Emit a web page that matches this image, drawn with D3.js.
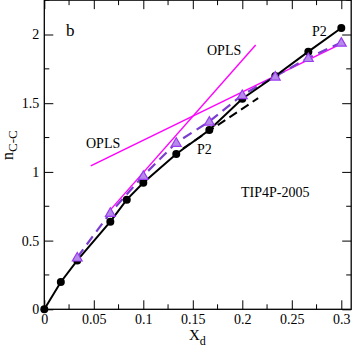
<!DOCTYPE html>
<html><head><meta charset="utf-8">
<script src="https://cdn.jsdelivr.net/npm/d3@7"></script>
<style>body{margin:0;background:#fff}svg{display:block}text{font-family:"Liberation Serif","Times New Roman",serif}</style>
</head><body><svg id="c" width="354" height="349"></svg>
<script>
const p2X = [0, 0.0167, 0.0333, 0.0667, 0.0833, 0.1, 0.1333, 0.1667, 0.2, 0.2333, 0.2667, 0.3];
const p2Y = [0, 0.199, 0.356, 0.638, 0.798, 0.921, 1.130, 1.305, 1.533, 1.698, 1.875, 2.047];
const oplsX = [0.0333, 0.0667, 0.1, 0.1333, 0.1667, 0.2, 0.2333, 0.2667, 0.3];
const oplsY = [0.378, 0.703, 0.972, 1.213, 1.367, 1.560, 1.695, 1.830, 1.942];
const p2FitX = [0.14, 0.216];
const p2FitY = [1.17, 1.537];
const oplsSteepX = [0.0665, 0.2135];
const oplsSteepY = [0.722, 1.924];
const oplsShallowX = [0.0469, 0.2997];
const oplsShallowY = [1.043, 1.931];
const xTicks = [0, 0.05, 0.1, 0.15, 0.2, 0.25, 0.3];
const yTicks = [0, 0.5, 1, 1.5, 2];

const FONT = '"Liberation Serif","Times New Roman",serif';
const svg = d3.select("#c");
const L = 44.3, B = 309.3;
const x = d3.scaleLinear().domain([0, 0.31]).range([L, L + 0.31 * 990]);
const y = d3.scaleLinear().domain([0, 2.25]).range([B, B - 2.25 * 137.4]);

svg.append("rect").attr("x", x(0)).attr("y", y(2.25)).attr("width", x(0.31) - x(0)).attr("height", y(0) - y(2.25))
  .attr("fill", "none").attr("stroke", "#000").attr("stroke-width", 1.3);

const axB = d3.axisBottom(x).tickValues(xTicks).tickFormat(d => d === 0 ? "0" : String(+d.toFixed(2))).tickSizeInner(-9).tickSizeOuter(0).tickPadding(5);
const gB = svg.append("g").attr("transform", `translate(0,${y(0)})`).call(axB);
const axL = d3.axisLeft(y).tickValues(yTicks).tickFormat(d => String(d)).tickSizeInner(-9).tickSizeOuter(0).tickPadding(5);
const gL = svg.append("g").attr("transform", `translate(${x(0)},0)`).call(axL);
[gB, gL].forEach(g => { g.attr("font-family", FONT); g.select(".domain").remove(); g.selectAll("line").attr("stroke", "#000").attr("stroke-width", 1);
  g.selectAll("text").attr("font-size", 14).attr("fill", "#000").attr("font-family", FONT); });
const gT = svg.append("g").attr("transform", `translate(0,${y(2.25)})`).call(d3.axisTop(x).tickValues(xTicks).tickFormat("").tickSizeInner(-9).tickSizeOuter(0));
const gR = svg.append("g").attr("transform", `translate(${x(0.31)},0)`).call(d3.axisRight(y).tickValues(yTicks).tickFormat("").tickSizeInner(-9).tickSizeOuter(0));
[gT, gR].forEach(g => { g.select(".domain").remove(); g.selectAll("line").attr("stroke", "#000"); });

const mx = d3.range(0, 0.3101, 0.025).filter(v => !xTicks.some(t => Math.abs(t - v) < 1e-6));
const my = d3.range(0, 2.2501, 0.25).filter(v => !yTicks.some(t => Math.abs(t - v) < 1e-6));
[["b", 0], ["t", 2.25]].forEach(([s, yv]) => svg.append("g").selectAll("line").data(mx).join("line")
  .attr("x1", d => x(d)).attr("x2", d => x(d)).attr("y1", y(yv)).attr("y2", y(yv) + (s === "b" ? -5 : 5)).attr("stroke", "#000"));
[["l", 0], ["r", 0.31]].forEach(([s, xv]) => svg.append("g").selectAll("line").data(my).join("line")
  .attr("y1", d => y(d)).attr("y2", d => y(d)).attr("x1", x(xv)).attr("x2", x(xv) + (s === "l" ? 5 : -5)).attr("stroke", "#000"));

const line = d3.line().x(d => x(d[0])).y(d => y(d[1]));
const zip = (a, b) => a.map((v, i) => [v, b[i]]);

svg.append("path").attr("d", line(zip(oplsSteepX, oplsSteepY))).attr("stroke", "#ff00ff").attr("stroke-width", 1.4).attr("fill", "none");
svg.append("path").attr("d", line(zip(oplsShallowX, oplsShallowY))).attr("stroke", "#ff00ff").attr("stroke-width", 1.4).attr("fill", "none");
svg.append("path").attr("d", line(zip(p2FitX, p2FitY))).attr("stroke", "#000").attr("stroke-width", 2).attr("stroke-dasharray", "9,5").attr("fill", "none");
svg.append("path").attr("d", line(zip(oplsX, oplsY))).attr("stroke", "#7b3fd0").attr("stroke-width", 2.2).attr("stroke-dasharray", "10,6").attr("fill", "none");
svg.append("path").attr("d", line(zip(p2X, p2Y))).attr("stroke", "#000").attr("stroke-width", 2).attr("fill", "none");
svg.append("g").selectAll("circle").data(zip(p2X, p2Y)).join("circle")
  .attr("cx", d => x(d[0])).attr("cy", d => y(d[1])).attr("r", 4).attr("fill", "#000");
const tri = d3.symbol().type(d3.symbolTriangle).size(42);
svg.append("g").selectAll("path").data(zip(oplsX, oplsY)).join("path")
  .attr("d", tri).attr("transform", d => `translate(${x(d[0])},${y(d[1]) + 0.8})`)
  .attr("fill", "#b68ae8").attr("stroke", "#9a3cf0").attr("stroke-width", 1.2);

const txt = (s, tx, ty, fs) => svg.append("text").attr("x", tx).attr("y", ty).attr("font-size", fs).attr("font-family", FONT).attr("fill", "#000").text(s);
txt("b", 66, 36, 17);
txt("OPLS", 207, 55, 14);
txt("OPLS", 86, 148, 14);
txt("P2", 312, 36, 14);
txt("P2", 197, 154, 14);
txt("TIP4P-2005", 241, 197, 14);
const xl = svg.append("text").attr("x", 189).attr("y", 340).attr("font-size", 15).attr("font-family", FONT).attr("fill", "#000");
xl.append("tspan").text("X");
xl.append("tspan").attr("font-size", 12).attr("dy", 5).text("d");
const yl = svg.append("text").attr("transform", "translate(13,160) rotate(-90)").attr("font-size", 16).attr("font-family", FONT).attr("fill", "#000");
yl.append("tspan").text("n");
yl.append("tspan").attr("font-size", 13).attr("dy", 4).text("C-C");
</script></body></html>
